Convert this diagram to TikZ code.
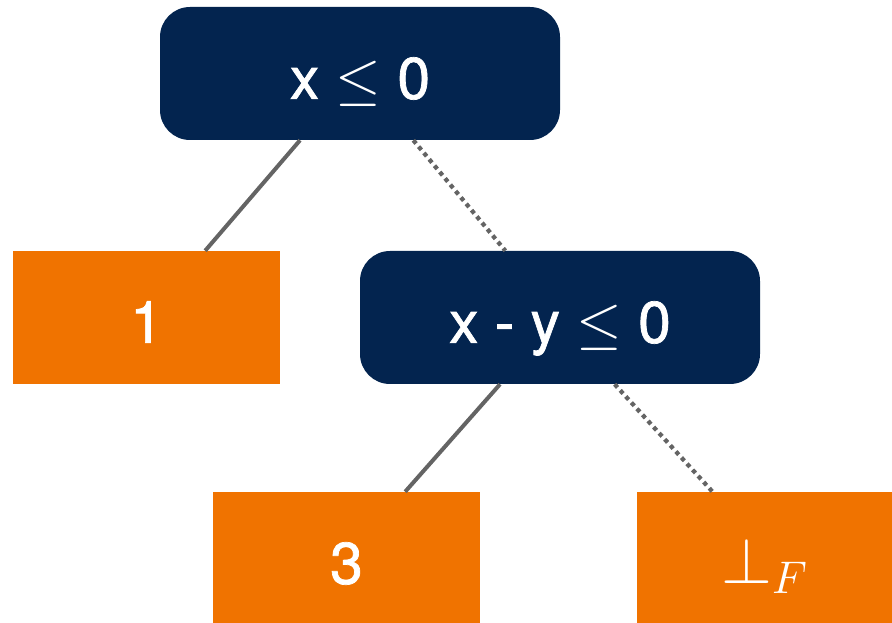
\documentclass[tikz,border=0pt]{standalone}
\usepackage{fix-cm}
\usepackage{fontspec}
\setmainfont{TeX Gyre Heros}
\newfontfamily\medfont{TeX Gyre Heros}[FakeBold=1.2]
\definecolor{navy}{HTML}{03244F}
\definecolor{leaforange}{HTML}{F07300}
\definecolor{edgegray}{HTML}{646464}
\begin{document}
\begin{tikzpicture}[x=0.75pt,y=-0.75pt,
    test/.style={fill=navy,rounded corners=22.5pt,text=white,minimum width=300pt,minimum height=99.75pt,inner sep=0pt,text height=38pt,text depth=0pt,font=\medfont\fontsize{44}{50}\selectfont},
    leaf/.style={fill=leaforange,text=white,minimum width=200pt,minimum height=99.75pt,inner sep=0pt,text height=38pt,text depth=0pt,font=\medfont\fontsize{44}{50}\selectfont},
    yes/.style={draw=edgegray,line width=3pt},
    no/.style={draw=edgegray,line width=3.2pt,dash pattern=on 3.2pt off 3pt}]
    \useasboundingbox (0,0) rectangle (892,623);

    \node[test] (t1) at (360,73.5) {x $\leq$ 0};
    \node[leaf] (one) at (146.5,317.5) {1};
    \node[test] (t2) at (560,317.5) {x - y $\leq$ 0};
    \node[leaf] (three) at (346.5,558.5) {3};
    \node[leaf,minimum width=191.25pt,font=\fontsize{49}{56}\selectfont] (bot) at (764.5,558.5) {$\bot_F$};

    \draw[yes] ([xshift=-45pt]t1.south)--([xshift=44pt]one.north);
    \draw[no] ([xshift=40pt]t1.south)--([xshift=-41pt]t2.north);
    \draw[yes] ([xshift=-45pt]t2.south)--([xshift=44pt]three.north);
    \draw[no] ([xshift=41pt]t2.south)--([xshift=-39pt]bot.north);
\end{tikzpicture}
\end{document}
